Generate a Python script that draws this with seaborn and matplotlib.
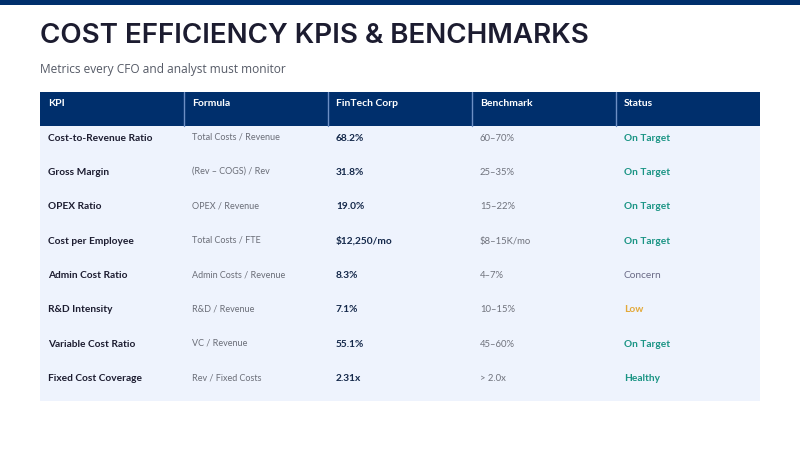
import numpy as np
import matplotlib
matplotlib.use("Agg")
import matplotlib.pyplot as plt
from matplotlib.colors import ListedColormap
import seaborn as sns

#***********************
#   Table content
#***********************
columns = ["KPI", "Formula", "FinTech Corp", "Benchmark", "Status"]
kpis = ["Cost-to-Revenue Ratio", "Gross Margin", "OPEX Ratio", "Cost per Employee",
        "Admin Cost Ratio", "R&D Intensity", "Variable Cost Ratio", "Fixed Cost Coverage"]
formulas = ["Total Costs / Revenue", "(Rev \u2013 COGS) / Rev", "OPEX / Revenue", "Total Costs / FTE",
            "Admin Costs / Revenue", "R&D / Revenue", "VC / Revenue", "Rev / Fixed Costs"]
fintech = ["68.2%", "31.8%", "19.0%", "$12,250/mo", "8.3%", "7.1%", "55.1%", "2.31x"]
benchmarks = ["60\u201370%", "25\u201335%", "15\u201322%", "$8\u201315K/mo",
              "4\u20137%", "10\u201315%", "45\u201360%", "> 2.0x"]
status = ["On Target", "On Target", "On Target", "On Target",
          "Concern", "Low", "On Target", "Healthy"]

NAVY = "#002f6c"
BODY = "#eef3fd"
status_colors = {"On Target": "#1a9484", "Healthy": "#1a9484",
                 "Low": "#e3a93a", "Concern": "#6a6a86"}

sns.set_style("white")
plt.rcParams['font.family'] = ['Lato', 'DejaVu Sans']

fig = plt.figure(figsize=(8, 4.5), dpi=100)
fig.patch.set_facecolor("white")

# top bar
bar = fig.add_axes([0, 1 - 5 / 450, 1, 5 / 450])
bar.set_facecolor(NAVY)
bar.set_xticks([]); bar.set_yticks([])
for s in bar.spines.values():
    s.set_visible(False)

fig.text(40 / 800, 1 - 36 / 450, "COST EFFICIENCY KPIS & BENCHMARKS",
         fontsize=20, fontweight="semibold", color="#1c1c30", family=["Inter", "DejaVu Sans"],
         va="center", ha="left")
fig.text(40 / 800, 1 - 70 / 450, "Metrics every CFO and analyst must monitor",
         fontsize=8.6, color="#555a66", family=["Open Sans", "DejaVu Sans"],
         va="center", ha="left")

#***********************
#   Table as heatmap
#***********************
nrows = len(kpis) + 1
ncols = len(columns)
grid = np.ones((nrows, ncols))
grid[0, :] = 0

top, bottom = 92, 401
ax = fig.add_axes([40 / 800, 1 - bottom / 450, 720 / 800, (bottom - top) / 450])
sns.heatmap(grid, cmap=ListedColormap([NAVY, BODY]), cbar=False, ax=ax,
            xticklabels=False, yticklabels=False, vmin=0, vmax=1)

# header separators
for c in range(1, ncols):
    ax.plot([c, c], [0, 1], color="#6d8fc4", lw=1.0)

xoff = 0.055
ybase = 0.42
for c, name in enumerate(columns):
    ax.text(c + xoff, ybase - 0.02, name, color="white", fontsize=7.5, fontweight="bold",
            va="baseline", ha="left")

for i in range(len(kpis)):
    r = i + 1 + ybase
    ax.text(0 + xoff, r, kpis[i], color="#1c1c30", fontsize=7.3, fontweight="bold", va="baseline")
    ax.text(1 + xoff, r - 0.03, formulas[i], color="#6b6e78", fontsize=6.5, va="baseline")
    ax.text(2 + xoff, r, fintech[i], color="#14284a", fontsize=7.3, fontweight="bold", va="baseline")
    ax.text(3 + xoff, r, benchmarks[i], color="#6f727c", fontsize=6.8, va="baseline")
    st_w = "normal" if status[i] == "Concern" else "bold"
    ax.text(4 + xoff, r, status[i], color=status_colors[status[i]], fontsize=7.3,
            fontweight=st_w, va="baseline")

fig.savefig("out.png", dpi=100, facecolor="white")
